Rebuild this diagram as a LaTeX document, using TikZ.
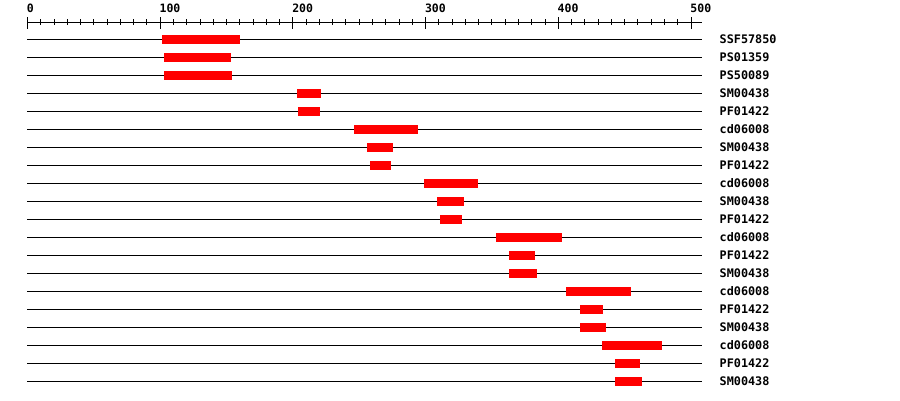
\documentclass[tikz,border=0pt]{standalone}
\usepackage{fontspec}
\newfontfamily\monofont{DejaVu Sans Mono}
\tikzset{
  rowline/.style={line width=1pt, black},
  dombox/.style={fill={rgb,255:red,255;green,0;blue,0}, draw=none},
  rowlabel/.style={anchor=base west, inner sep=0pt, font=\monofont\bfseries\fontsize{11.8}{12}\selectfont},
  axislabel/.style={anchor=base west, inner sep=0pt, font=\monofont\bfseries\fontsize{11.5}{12}\selectfont},
  majortick/.style={line width=1pt},
  minortick/.style={line width=1pt}
}
\begin{document}
\begin{tikzpicture}[x=1pt,y=-1pt]
\useasboundingbox[fill=white] (0,0) rectangle (900,400);
% axis
\coordinate (axL) at (27,22.5);
\coordinate (axR) at (702,22.5);
\draw[rowline] (axL) -- (axR);
\foreach \v in {0,10,...,500} {
  \pgfmathsetmacro{\tx}{27.5+\v*1.327}
  \draw[minortick] (\tx,19) -- (\tx,24.5);
}
\foreach \v in {0,100,200,300,400,500} {
  \pgfmathsetmacro{\tx}{27.5+\v*1.327}
  \draw[majortick] (\tx,17) -- (\tx,28.5);
  \node[axislabel] (ax\v) at (\tx-0.8,12.5) {\v};
}
% rows
\foreach \i/\a/\b/\lab in {
  1/162/240/SSF57850,
  2/164/231/PS01359,
  3/164/232/PS50089,
  4/297/321/SM00438,
  5/298/320/PF01422,
  6/354/418/cd06008,
  7/367/393/SM00438,
  8/370/391/PF01422,
  9/424/478/cd06008,
  10/437/464/SM00438,
  11/440/462/PF01422,
  12/496/562/cd06008,
  13/509/535/PF01422,
  14/509/537/SM00438,
  15/566/631/cd06008,
  16/580/603/PF01422,
  17/580/606/SM00438,
  18/602/662/cd06008,
  19/615/640/PF01422,
  20/615/642/SM00438} {
  \pgfmathsetmacro{\yy}{39.5+18*(\i-1)}
  \coordinate (l\i) at (27,\yy);
  \coordinate (r\i) at (702,\yy);
  \draw[rowline] (l\i) -- (r\i);
  \fill[dombox] (\a,\yy-4.5) rectangle (\b,\yy+4.5);
  \node[rowlabel] (lab\i) at (719.5,\yy+4.3) {\lab};
}
\end{tikzpicture}
\end{document}
